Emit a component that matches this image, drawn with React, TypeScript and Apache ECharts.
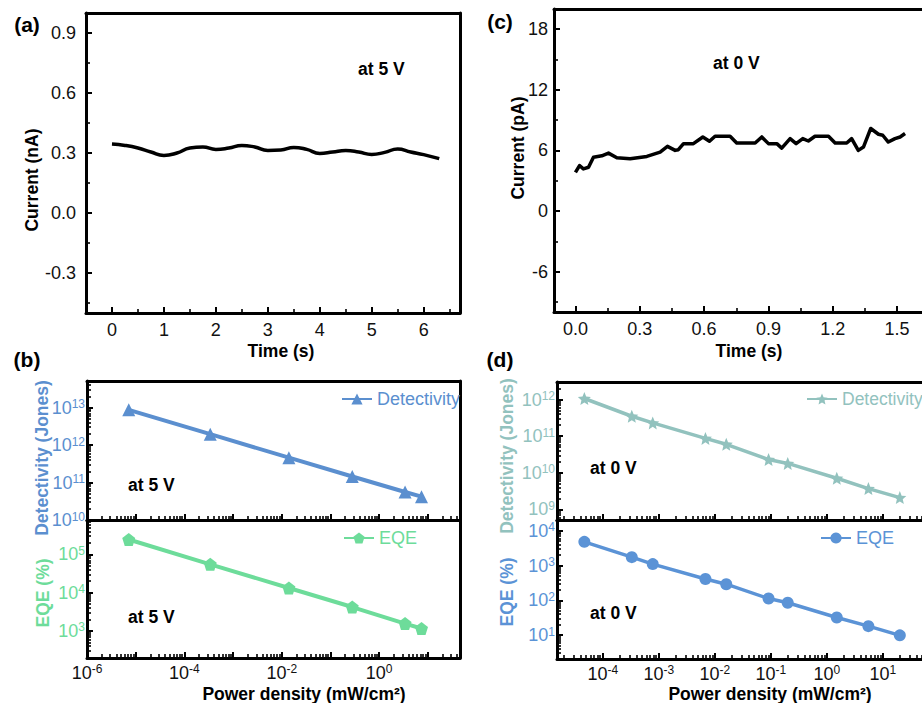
import React, { useEffect, useRef } from 'react';
import * as echarts from 'echarts';

// Panel (a): current at 5 V
const timeA = [0, 0.25, 0.5, 0.75, 1.0, 1.25, 1.5, 1.75, 2.0, 2.25, 2.5, 2.75, 3.0, 3.25, 3.5, 3.75, 4.0, 4.25, 4.5, 4.75, 5.0, 5.25, 5.5, 5.75, 6.0, 6.3];
const currentA = [0.345, 0.338, 0.325, 0.305, 0.288, 0.3, 0.325, 0.33, 0.318, 0.325, 0.338, 0.33, 0.313, 0.315, 0.328, 0.318, 0.298, 0.305, 0.312, 0.305, 0.293, 0.303, 0.32, 0.305, 0.292, 0.272];

// Panel (c): current at 0 V
const timeC = [0.0, 0.019, 0.037, 0.061, 0.084, 0.123, 0.154, 0.193, 0.255, 0.333, 0.395, 0.429, 0.465, 0.48, 0.504, 0.55, 0.594, 0.625, 0.651, 0.721, 0.752, 0.838, 0.869, 0.9, 0.939, 0.962, 1.001, 1.029, 1.06, 1.086, 1.117, 1.18, 1.211, 1.265, 1.288, 1.319, 1.343, 1.377, 1.413, 1.433, 1.459, 1.49, 1.514, 1.537];
const currentC = [3.83, 4.5, 4.17, 4.33, 5.33, 5.47, 5.73, 5.27, 5.17, 5.4, 5.83, 6.4, 6.0, 6.07, 6.67, 6.67, 7.33, 6.9, 7.4, 7.4, 6.73, 6.73, 7.33, 6.67, 6.67, 6.23, 7.17, 6.67, 7.17, 6.93, 7.4, 7.4, 6.73, 6.73, 7.17, 6.0, 6.33, 8.17, 7.6, 7.5, 6.83, 7.17, 7.33, 7.67];

// Panel (b): at 5 V
const powerB = [7.2e-6, 3.4e-4, 0.014, 0.28, 3.4, 7.4];
const detB = [8.7e12, 1.95e12, 4.6e11, 1.45e11, 5.6e10, 4.2e10];
const eqeB = [2.45e5, 5.5e4, 1.32e4, 4.2e3, 1.55e3, 1.15e3];

// Panel (d): at 0 V
const powerD = [4.7e-5, 3.3e-4, 7.8e-4, 6.8e-3, 0.016, 0.091, 0.2, 1.5, 5.5, 20];
const detD = [1.07e12, 3.5e11, 2.3e11, 8.7e10, 6.0e10, 2.3e10, 1.8e10, 7.1e9, 3.7e9, 2.1e9];
const eqeD = [4.8e3, 1.74e3, 1.1e3, 410, 290, 112, 85, 32, 18, 9.8];

const FONT = '"Liberation Sans", Arial, Helvetica, sans-serif';
const C_DET_B = '#5b8fcf';
const C_EQE_B = '#6ddc9a';
const C_DET_D = '#92c2be';
const C_EQE_D = '#5b93d6';
const INK = '#000';

const STAR = 'path://M0,-1 L0.265,-0.364 L0.951,-0.309 L0.428,0.139 L0.588,0.809 L0,0.45 L-0.588,0.809 L-0.428,0.139 L-0.951,-0.309 L-0.265,-0.364 Z';
const PENTA = 'path://M0,-1 L0.951,-0.309 L0.588,0.809 L-0.588,0.809 L-0.951,-0.309 Z';

const axisLine = { show: true, onZero: false, lineStyle: { color: INK, width: 3 } };
const tick = { show: true, inside: true, length: 6, lineStyle: { color: INK, width: 2 } };
const minor = (n: number) => ({ show: true, splitNumber: n, length: 4, lineStyle: { color: INK, width: 1.6 } });

const near = (v: number, step: number) => Math.abs(v / step - Math.round(v / step)) < 1e-6;

const powLabel = (onlyEven: boolean, maxExp: number) => (v: number) => {
  const e = Math.log10(v);
  const r = Math.round(e);
  if (Math.abs(e - r) > 1e-6) return '';
  if (onlyEven && r % 2 !== 0) return '';
  if (r > maxExp) return '';
  return `{b|10}{s|${r}}`;
};
const rich = (color: string) => ({
  b: { fontSize: 18, lineHeight: 19, color, fontFamily: FONT },
  s: { fontSize: 12, lineHeight: 11, verticalAlign: 'top', color, fontFamily: FONT },
});

const linLabel = (margin: number) => ({ color: '#111', fontSize: 18, fontFamily: FONT, margin });

function txt(text: string, x: number, y: number, opts: any = {}) {
  return {
    type: 'text',
    x,
    y,
    rotation: opts.rotation || 0,
    style: {
      text,
      fill: opts.color || '#000',
      font: `${opts.weight || 'bold'} ${opts.size || 17.5}px ${FONT}`,
      align: opts.align || 'center',
      verticalAlign: 'middle',
    },
  };
}

export default function App() {
  const ref = useRef<HTMLDivElement>(null);
  useEffect(() => {
    if (!ref.current) return;
    const chart = echarts.init(ref.current, undefined, { renderer: 'svg' });
    const gridBase = { show: false, containLabel: false, outerBoundsMode: 'none' };
    const logX = (grid: number, min: number, max: number, showLabels: boolean, onlyEven: boolean, maxExp: number) => ({
      type: 'log', gridIndex: grid, min, max, logBase: 10, splitNumber: 5,
      axisLine, splitLine: { show: false },
      axisTick: tick, minorTick: minor(9),
      axisLabel: { show: showLabels, formatter: powLabel(onlyEven, maxExp), rich: rich('#111'), margin: 5 },
    });
    const logY = (grid: number, min: number, max: number, color: string) => ({
      type: 'log', gridIndex: grid, min, max, logBase: 10, splitNumber: 5,
      axisLine, splitLine: { show: false },
      axisTick: tick, minorTick: minor(9),
      axisLabel: { formatter: powLabel(false, 99), rich: rich(color), margin: 2 },
    });
    const frame = (grid: number, position: string) => ({
      type: 'value', gridIndex: grid, position, min: 0, max: 1,
      axisLine, axisTick: { show: false }, axisLabel: { show: false }, splitLine: { show: false },
    });

    const option: any = {
      animation: false,
      backgroundColor: '#fff',
      textStyle: { fontFamily: FONT },
      grid: [
        { ...gridBase, left: 86, top: 13, width: 374, height: 300 },
        { ...gridBase, left: 554, top: 9, width: 386, height: 303 },
        { ...gridBase, left: 87, top: 381, width: 373, height: 139 },
        { ...gridBase, left: 87, top: 520, width: 373, height: 138 },
        { ...gridBase, left: 557, top: 382, width: 382, height: 138 },
        { ...gridBase, left: 557, top: 520, width: 382, height: 139 },
      ],
      xAxis: [
        {
          type: 'value', gridIndex: 0, min: -0.5, max: 6.7, minInterval: 1, maxInterval: 1,
          axisLine, splitLine: { show: false }, axisTick: tick, minorTick: minor(2),
          axisLabel: { ...linLabel(8), formatter: (v: number) => (near(v, 1) ? String(Math.round(v)) : '') },
        },
        {
          type: 'value', gridIndex: 1, min: -0.1, max: 1.7, minInterval: 0.3, maxInterval: 0.3,
          axisLine, splitLine: { show: false }, axisTick: tick, minorTick: minor(2),
          axisLabel: { ...linLabel(8), formatter: (v: number) => (near(v, 0.3) ? (Math.abs(v) < 1e-9 ? '0.0' : v.toFixed(1)) : '') },
        },
        logX(2, 1e-6, Math.pow(10, 1.66), false, true, 99),
        logX(3, 1e-6, Math.pow(10, 1.66), true, true, 99),
        logX(4, Math.pow(10, -4.816), 100, false, false, 1),
        logX(5, Math.pow(10, -4.816), 100, true, false, 1),
        frame(0, 'top'), frame(1, 'top'), frame(2, 'top'), frame(3, 'top'), frame(4, 'top'), frame(5, 'top'),
      ],
      yAxis: [
        {
          type: 'value', gridIndex: 0, min: -0.5, max: 1.0, minInterval: 0.3, maxInterval: 0.3,
          axisLine, splitLine: { show: false }, axisTick: tick, minorTick: minor(2),
          axisLabel: { ...linLabel(10), formatter: (v: number) => (near(v, 0.3) ? (Math.abs(v) < 1e-9 ? '0.0' : v.toFixed(1)) : '') },
        },
        {
          type: 'value', gridIndex: 1, min: -10, max: 20, minInterval: 6, maxInterval: 6,
          axisLine, splitLine: { show: false }, axisTick: tick, minorTick: minor(2),
          axisLabel: { ...linLabel(6), formatter: (v: number) => (near(v, 6) ? String(Math.round(v)) : '') },
        },
        logY(2, 1e10, Math.pow(10, 13.71), C_DET_B),
        logY(3, Math.pow(10, 2.29), Math.pow(10, 5.9), C_EQE_B),
        logY(4, Math.pow(10, 8.71), Math.pow(10, 12.48), C_DET_D),
        logY(5, Math.pow(10, 0.31), Math.pow(10, 4.31), C_EQE_D),
        frame(0, 'right'), frame(1, 'right'), frame(2, 'right'), frame(3, 'right'), frame(4, 'right'), frame(5, 'right'),
      ],
      legend: [
        {
          data: ['Detectivity (b)'], left: 336, top: 385, itemWidth: 30, itemHeight: 14,
          formatter: () => 'Detectivity', textStyle: { color: C_DET_B, fontSize: 18, fontFamily: FONT },
        },
        {
          data: ['EQE (b)'], left: 338, top: 524, itemWidth: 30, itemHeight: 14,
          formatter: () => 'EQE', textStyle: { color: C_EQE_B, fontSize: 18, fontFamily: FONT },
        },
        {
          data: ['Detectivity (d)'], left: 801, top: 385, itemWidth: 30, itemHeight: 14,
          formatter: () => 'Detectivity', textStyle: { color: C_DET_D, fontSize: 17.5, fontFamily: FONT },
        },
        {
          data: ['EQE (d)'], left: 815, top: 524, itemWidth: 30, itemHeight: 14,
          formatter: () => 'EQE', textStyle: { color: C_EQE_D, fontSize: 18, fontFamily: FONT },
        },
      ],
      series: [
        {
          type: 'line', name: 'Current (a)', xAxisIndex: 0, yAxisIndex: 0,
          data: timeA.map((t, i) => [t, currentA[i]]), smooth: 0.5, showSymbol: false,
          lineStyle: { color: '#000', width: 3.5 }, itemStyle: { color: '#000' },
        },
        {
          type: 'line', name: 'Current (c)', xAxisIndex: 1, yAxisIndex: 1,
          data: timeC.map((t, i) => [t, currentC[i]]), showSymbol: false,
          lineStyle: { color: '#000', width: 3.5, join: 'round' }, itemStyle: { color: '#000' },
        },
        {
          type: 'line', name: 'Detectivity (b)', xAxisIndex: 2, yAxisIndex: 2,
          data: powerB.map((p, i) => [p, detB[i]]), symbol: 'triangle', symbolSize: 13,
          lineStyle: { color: C_DET_B, width: 4 }, itemStyle: { color: C_DET_B },
        },
        {
          type: 'line', name: 'EQE (b)', xAxisIndex: 3, yAxisIndex: 3,
          data: powerB.map((p, i) => [p, eqeB[i]]), symbol: PENTA, symbolSize: 13,
          lineStyle: { color: C_EQE_B, width: 4 }, itemStyle: { color: C_EQE_B },
        },
        {
          type: 'line', name: 'Detectivity (d)', xAxisIndex: 4, yAxisIndex: 4,
          data: powerD.map((p, i) => [p, detD[i]]), symbol: STAR, symbolSize: 13,
          lineStyle: { color: C_DET_D, width: 3.5 }, itemStyle: { color: C_DET_D },
        },
        {
          type: 'line', name: 'EQE (d)', xAxisIndex: 5, yAxisIndex: 5,
          data: powerD.map((p, i) => [p, eqeD[i]]), symbol: 'circle', symbolSize: 12,
          lineStyle: { color: C_EQE_D, width: 3.5 }, itemStyle: { color: C_EQE_D },
        },
      ],
      graphic: [
        txt('(a)', 27, 24, { size: 21 }),
        txt('(c)', 500, 21, { size: 21 }),
        txt('(b)', 27, 359, { size: 21 }),
        txt('(d)', 500, 359, { size: 21 }),
        txt('at 5 V', 358, 69, { align: 'left' }),
        txt('at 0 V', 713, 63, { align: 'left' }),
        txt('at 5 V', 128, 485, { align: 'left' }),
        txt('at 5 V', 128, 617, { align: 'left' }),
        txt('at 0 V', 590, 468, { align: 'left' }),
        txt('at 0 V', 590, 613, { align: 'left' }),
        txt('Time (s)', 281, 351),
        txt('Time (s)', 749, 351),
        txt('Power density (mW/cm²)', 304, 694),
        txt('Power density (mW/cm²)', 770, 694),
        txt('Current (nA)', 32, 180, { rotation: Math.PI / 2 }),
        txt('Current (pA)', 518, 148, { rotation: Math.PI / 2 }),
        txt('Detectivity (Jones)', 42, 458, { rotation: Math.PI / 2, color: C_DET_B }),
        txt('EQE (%)', 43, 593, { rotation: Math.PI / 2, color: C_EQE_B }),
        txt('Detectivity (Jones)', 507, 456, { rotation: Math.PI / 2, color: C_DET_D }),
        txt('EQE (%)', 507, 592, { rotation: Math.PI / 2, color: C_EQE_D }),
      ],
    };
    chart.setOption(option);
    return () => chart.dispose();
  }, []);
  return (
    <div
      ref={ref}
      style={{ position: 'absolute', left: 0, top: 0, width: 922, height: 703, background: '#fff' }}
    />
  );
}
